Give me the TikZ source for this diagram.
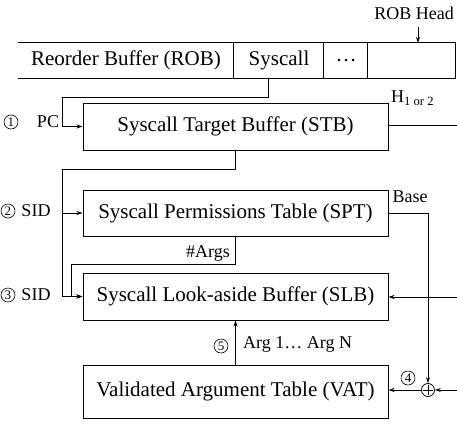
\documentclass[tikz,border=0pt]{standalone}
\usepackage{fontspec}
\setmainfont{Liberation Serif}
\usetikzlibrary{arrows.meta,calc}
\tikzset{
  box/.style={draw, line width=1pt, minimum width=305pt, inner sep=0pt, font=\fontsize{21}{24}\selectfont},
  cell/.style={inner sep=0pt, minimum height=35pt, font=\fontsize{21}{24}\selectfont},
  lbl/.style={inner sep=0pt, font=\fontsize{18}{20}\selectfont},
  circ/.style={draw, circle, line width=0.6pt, inner sep=0pt, minimum size=14pt, font=\fontsize{13}{13}\selectfont},
  wire/.style={line width=0.8pt},
  arr/.style={wire, -{Stealth[length=6pt,width=4pt]}}
}
\begin{document}
\begin{tikzpicture}[x=1pt,y=-1pt]
\useasboundingbox (0,0) rectangle (457,423);
% ROB row
\node[cell, minimum width=216pt] (rob) at (126,60.5) {Reorder Buffer (ROB)};
\node[cell, minimum width=90pt] (sys) at (279,60.5) {Syscall};
\node[cell, minimum width=44pt] (dots) at (346,60.5) {\ldots};
\node[cell, minimum width=87pt] (head) at (411.5,60.5) {};
\draw[line width=1pt] (rob.north west) -- (head.north east) -- (head.south east) -- (rob.south west);
\draw[line width=1pt] (sys.north west) -- (sys.south west) (dots.north west) -- (dots.south west) (head.north west) -- (head.south west);
\node[lbl] (robhead) at (414,13) {ROB Head};
\coordinate (rh) at (418,27);
\draw[arr] (rh) -- (rh |- head.north);
% boxes
\node[box, minimum height=47pt] (stb) at (235.5,126.5) {Syscall Target Buffer (STB)};
\node[box, minimum height=46pt] (spt) at (235.5,213) {Syscall Permissions Table (SPT)};
\node[box, minimum height=47pt] (slb) at (235.5,296.5) {Syscall Look-aside Buffer (SLB)};
\node[box, minimum height=53pt] (vat) at (235.5,391.5) {Validated Argument Table (VAT)};
% left labels
\node[circ] (n1) at (11,122) {1};
\node[lbl] (pc) at (48,122) {PC};
\node[circ] (n2) at (8,211) {2};
\node[lbl] (sid2) at (36,211) {SID};
\node[circ] (n3) at (8,295) {3};
\node[lbl] (sid3) at (36,295) {SID};
% syscall -> STB
\coordinate (s0) at (268,78);
\coordinate (s1) at (62,97);
\draw[arr] (s0) |- (s1) |- (stb.west);
% STB -> SPT and SLB
\coordinate (s2) at (62,169);
\coordinate (s3) at (62,213);
\draw[arr] (stb.south) |- (s2) |- (spt.west);
\draw[arr] (s3) |- (slb.west);
% #Args
\coordinate (a1) at (71,264);
\draw[arr] (spt.south) |- (a1) |- (slb.west);
\node[lbl] (args) at (208,253) {\#Args};
% H output
\coordinate (hout) at (457,125);
\draw[wire] (stb.east |- hout) -- (hout);
\node[lbl, anchor=west] (h) at (391,98) {H\textsubscript{1 or 2}};
% Base
\node[lbl] (base) at (410,197) {Base};
\node[draw, circle, line width=0.8pt, minimum size=13pt, inner sep=0pt] (plus) at (428,390) {};
\draw[line width=0.7pt] ($(plus.center)+(-5,0)$) -- ($(plus.center)+(5,0)$) ($(plus.center)+(0,-5)$) -- ($(plus.center)+(0,5)$);
\coordinate (b1) at (428,213);
\draw[arr] (spt.east) -- (b1) -- (plus.north);
\coordinate (pin) at (457,390);
\draw[arr] (pin) -- (plus.east);
\draw[arr] (plus.west) -- (plus.west -| vat.east);
\node[circ] (n4) at (408,378) {4};
% SLB right input
\coordinate (sin) at (457,297);
\draw[arr] (sin) -- (sin -| slb.east);
% VAT -> SLB
\draw[arr] (vat.north) -- (slb.south);
\node[circ] (n5) at (221,346) {5};
\node[lbl, anchor=west] (argn) at (243,344) {Arg 1\ldots{} Arg N};
\end{tikzpicture}
\end{document}
